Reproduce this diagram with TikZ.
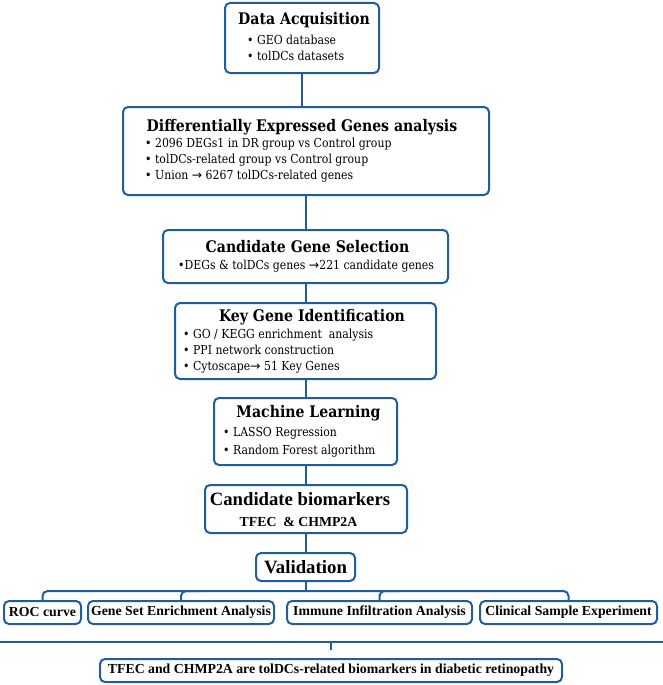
\documentclass[tikz,border=0pt]{standalone}
\usepackage{fontspec}
\usepackage{tikz}
\usetikzlibrary{positioning, calc}
\newfontfamily\topfont[FakeStretch=0.88]{DejaVu Serif}
\newfontfamily\botfont{Liberation Serif}
\newfontfamily\arrowfont{DejaVu Sans}
\definecolor{boxblue}{RGB}{30,94,160}
\tikzstyle{stage} = [rectangle, rounded corners=5pt, draw=boxblue, line width=2pt, fill=white]
\tikzstyle{heading} = [inner sep=0pt, font=\topfont\bfseries\fontsize{16}{18}\selectfont]
\tikzstyle{items} = [inner sep=0pt, align=left, anchor=west, font=\topfont\fontsize{12.4}{16}\selectfont]
\tikzstyle{result} = [rectangle, rounded corners=5pt, draw=boxblue, line width=2pt, inner sep=0pt, font=\botfont\bfseries\fontsize{13.8}{15}\selectfont]
\tikzstyle{link} = [draw=boxblue, line width=2pt]
\newcommand{\bul}{\textbullet\ }
\newcommand{\rarrow}{{\arrowfont →}}

\begin{document}
\begin{tikzpicture}[x=1pt, y=-1pt]
\useasboundingbox (0,0) rectangle (663,685);
% stages
\node (acq) [stage, minimum width=154pt, minimum height=70pt] at (302,38) {};
\node (deg) [stage, minimum width=366pt, minimum height=88pt] at (306,151) {};
\node (cand) [stage, minimum width=285pt, minimum height=53pt] at (305.5,256.5) {};
\node (key) [stage, minimum width=261pt, minimum height=76pt] at (305.5,341) {};
\node (ml) [stage, minimum width=183pt, minimum height=67pt] at (305.5,431.5) {};
\node (bio) [stage, minimum width=202pt, minimum height=48pt] at (306,509) {};
\node (val) [result, minimum width=99pt, minimum height=28pt, font=\botfont\bfseries\fontsize{18.8}{20}\selectfont] at (305.5,567) {Validation};
% texts in the stages
\node (acqT) [heading] at (304,20) {Data Acquisition};
\node (acqL) [items] at (247,48) {\bul GEO database\\ \bul tolDCs datasets};
\node (degT) [heading] at (302,127) {Differentially Expressed Genes analysis};
\node (degL) [items] at (145,160) {\bul 2096 DEGs1 in DR group vs Control group\\ \bul tolDCs-related group vs Control group\\ \bul Union \rarrow\ 6267 tolDCs-related genes};
\node (candT) [heading] at (307.5,247) {Candidate Gene Selection};
\node (candL) [items] at (178,266) {\textbullet DEGs \& tolDCs genes \rarrow221 candidate genes};
\node (keyT) [heading] at (312,317) {Key Gene Identification};
\node (keyL) [items] at (183,351) {\bul GO / KEGG enrichment\ \ analysis\\ \bul PPI network construction\\ \bul Cytoscape\rarrow\ 51 Key Genes};
\node (mlT) [heading] at (308.5,413) {Machine Learning};
\node (mlL) [items, font=\topfont\fontsize{12.4}{18}\selectfont] at (223,442) {\bul LASSO Regression\\ \bul Random Forest algorithm};
\node (bioT) [inner sep=0pt, font=\botfont\bfseries\fontsize{18.7}{20}\selectfont] at (300,499) {Candidate biomarkers};
\node (bioL) [inner sep=0pt, font=\botfont\bfseries\fontsize{13.8}{15}\selectfont] at (298.5,522) {TFEC\ \ \& CHMP2A};
% validation
\node (roc) [result, minimum width=77pt, minimum height=23pt] at (42.5,612.5) {ROC curve};
\node (gsea) [result, minimum width=186pt, minimum height=23pt] at (181,612.5) {Gene Set Enrichment Analysis};
\node (imm) [result, minimum width=185pt, minimum height=23pt] at (379.5,612.5) {Immune Infiltration Analysis};
\node (clin) [result, minimum width=177pt, minimum height=23pt] at (568.5,612.5) {Clinical Sample Experiment};
\node (concl) [result, minimum width=462pt, minimum height=23pt] at (331,670.5) {TFEC and CHMP2A are tolDCs-related biomarkers in diabetic retinopathy};
\coordinate (bus) at (305,591);
\coordinate (sepL) at (0,642);
\coordinate (sepR) at (663,642);
\coordinate (tick) at (331,650);
% connectors
\draw[link] (acq.south) -- (acq.south |- deg.north);
\draw[link] (deg.south) -- (deg.south |- cand.north);
\draw[link] (cand.south) -- (cand.south |- key.north);
\draw[link] (key.south) -- (key.south |- ml.north);
\draw[link] (ml.south) -- (ml.south |- bio.north);
\draw[link] (bio.south) -- (bio.south |- val.north);
\draw[link] (val.south) -- (val.south |- bus);
\draw[link, rounded corners=5pt] (roc.north) |- (bus -| clin.north) -- (clin.north);
\draw[link, rounded corners=5pt] (gsea.north) |- ($(gsea.north |- bus)+(20,0)$);
\draw[link, rounded corners=5pt] (imm.north) |- ($(imm.north |- bus)+(20,0)$);
\draw[link] (sepL) -- (sepR);
\draw[link] (tick |- sepL) -- (tick);
\end{tikzpicture}
\end{document}
